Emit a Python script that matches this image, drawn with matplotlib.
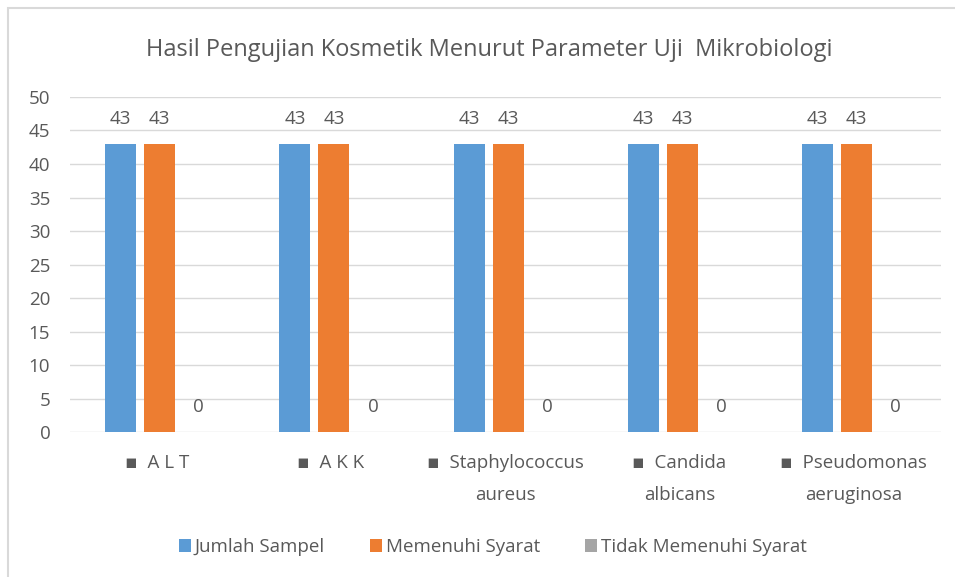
import numpy as np
import matplotlib
matplotlib.use('Agg')
import matplotlib.pyplot as plt
from matplotlib.patches import Rectangle

plt.rcParams['font.family'] = ['Open Sans', 'DejaVu Sans']

# data
categories = ['▪  A L T', '▪  A K K', '▪  Staphylococcus\naureus',
              '▪  Candida\nalbicans', '▪  Pseudomonas\naeruginosa']
jumlah_sampel = [43, 43, 43, 43, 43]
memenuhi = [43, 43, 43, 43, 43]
tidak_memenuhi = [0, 0, 0, 0, 0]
series_names = ['Jumlah Sampel', 'Memenuhi Syarat', 'Tidak Memenuhi Syarat']
colors = ['#5b9bd5', '#ed7d31', '#a5a5a5']
text_col = '#595959'

fig = plt.figure(figsize=(9.55, 5.77), dpi=100)
fig.patch.set_facecolor('white')
# chart frame
fig.add_artist(Rectangle((0.008, -0.01), 1.0, 0.997, transform=fig.transFigure,
                         fill=False, edgecolor='#d9d9d9', linewidth=1.5))

ax = fig.add_axes([0.073, 0.251, 0.912, 0.581])
x = np.arange(len(categories))
w = 0.178
step = 0.224
for i, (vals, name, c) in enumerate(zip([jumlah_sampel, memenuhi, tidak_memenuhi],
                                        series_names, colors)):
    bars = ax.bar(x + (i - 1) * step + 0.017, vals, width=w, color=c, label=name, zorder=3)
    for b, v in zip(bars, vals):
        ax.text(b.get_x() + b.get_width() / 2, v + 2.4, str(v), ha='center',
                va='bottom', fontsize=13.5, color=text_col)

ax.set_xlim(-0.5, len(categories) - 0.5)
ax.set_ylim(0, 50)
ax.set_yticks(range(0, 51, 5))
ax.yaxis.grid(True, color='#d9d9d9', linewidth=1, zorder=0)
ax.set_axisbelow(True)
for s in ax.spines.values():
    s.set_visible(False)
ax.tick_params(length=0, labelsize=13.5, colors=text_col)
ax.tick_params(axis='y', pad=14)
ax.tick_params(axis='x', pad=16)
ax.set_xticks(x)
ax.set_xticklabels(categories, linespacing=2.0)

fig.text(0.512, 0.913, 'Hasil Pengujian Kosmetik Menurut Parameter Uji  Mikrobiologi',
         ha='center', va='center', fontsize=17, color=text_col)

fig.legend(loc='center', bbox_to_anchor=(0.516, 0.052), ncol=3, frameon=False,
           fontsize=13.5, labelcolor=text_col, handlelength=0.65, handleheight=0.65,
           handletextpad=0.2, columnspacing=2.4)

fig.savefig('out.png', dpi=100)
